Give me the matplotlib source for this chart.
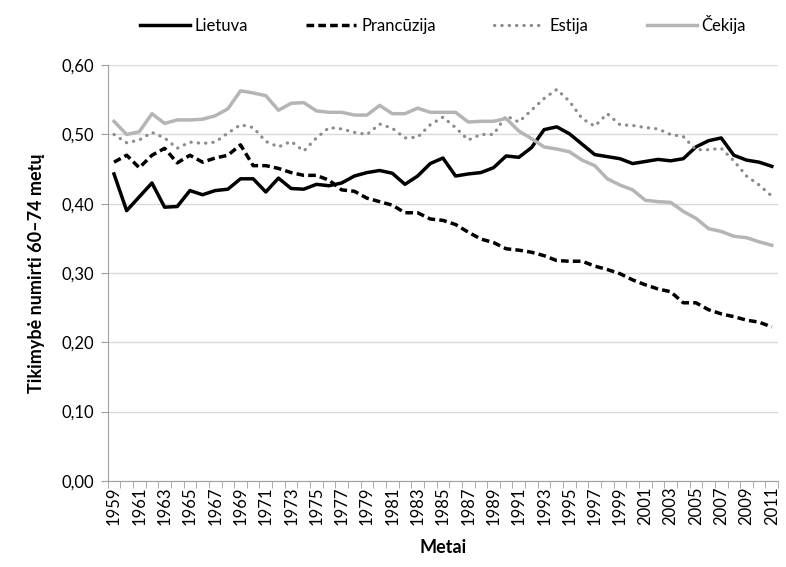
import matplotlib
matplotlib.use('Agg')
from matplotlib import pyplot as plt
import numpy as np

years = list(range(1959, 2012))

lietuva = [0.443, 0.390, 0.410, 0.430, 0.395, 0.396, 0.419, 0.413, 0.419, 0.421,
           0.436, 0.436, 0.417, 0.437, 0.422, 0.421, 0.428, 0.426, 0.430, 0.440,
           0.445, 0.448, 0.444, 0.428, 0.440, 0.458, 0.466, 0.440, 0.443, 0.445,
           0.452, 0.469, 0.467, 0.481, 0.507, 0.511, 0.501, 0.486, 0.471, 0.468,
           0.465, 0.458, 0.461, 0.464, 0.462, 0.465, 0.482, 0.491, 0.495, 0.470,
           0.463, 0.460, 0.454]

prancuzija = [0.460, 0.470, 0.452, 0.470, 0.480, 0.459, 0.470, 0.460, 0.466, 0.470,
              0.485, 0.455, 0.455, 0.451, 0.445, 0.441, 0.441, 0.434, 0.420, 0.418,
              0.408, 0.403, 0.398, 0.387, 0.387, 0.378, 0.376, 0.370, 0.359, 0.349,
              0.344, 0.335, 0.333, 0.330, 0.325, 0.318, 0.317, 0.317, 0.310, 0.305,
              0.299, 0.290, 0.283, 0.277, 0.273, 0.257, 0.257, 0.247, 0.241, 0.237,
              0.232, 0.229, 0.222]

estija = [0.500, 0.488, 0.492, 0.503, 0.495, 0.480, 0.489, 0.487, 0.489, 0.502,
          0.514, 0.510, 0.490, 0.482, 0.490, 0.476, 0.495, 0.510, 0.508, 0.503,
          0.500, 0.515, 0.509, 0.495, 0.496, 0.514, 0.525, 0.510, 0.492, 0.500,
          0.500, 0.527, 0.518, 0.535, 0.552, 0.565, 0.548, 0.523, 0.512, 0.530,
          0.514, 0.513, 0.510, 0.508, 0.500, 0.497, 0.478, 0.478, 0.480, 0.462,
          0.440, 0.427, 0.411]

cekija = [0.519, 0.500, 0.504, 0.530, 0.516, 0.521, 0.521, 0.522, 0.527, 0.537,
          0.563, 0.560, 0.556, 0.535, 0.545, 0.546, 0.534, 0.532, 0.532, 0.528,
          0.528, 0.542, 0.530, 0.530, 0.538, 0.532, 0.532, 0.532, 0.518, 0.519,
          0.519, 0.523, 0.505, 0.494, 0.482, 0.479, 0.475, 0.463, 0.455, 0.436,
          0.427, 0.420, 0.405, 0.403, 0.402, 0.389, 0.379, 0.364, 0.360, 0.353,
          0.351, 0.345, 0.340]

plt.rcParams['font.family'] = ['Lato', 'DejaVu Sans']

fig = plt.figure(figsize=(7.86, 5.67), dpi=100)
ax = fig.add_axes([0.137, 0.152, 0.853, 0.733])

x = np.arange(len(years))
ax.plot(x, lietuva, color='black', lw=2.5, label='Lietuva')
ax.plot(x, prancuzija, color='black', lw=2.5, ls=(0, (2.2, 1.2)), label='Prancūzija')
ax.plot(x, estija, color='#8c8c8c', lw=2.3, ls=(0, (0.1, 2.2)), dash_capstyle='round', label='Estija')
ax.plot(x, cekija, color='#b5b5b5', lw=2.5, label='Čekija')

ax.set_xlim(-0.5, len(years) - 0.5)
ax.set_ylim(0, 0.6)
ax.set_yticks(np.arange(0, 0.61, 0.1))
ax.set_yticklabels([f'{v:.2f}'.replace('.', ',') for v in np.arange(0, 0.61, 0.1)], fontsize=12)
ax.set_xticks(x[::2])
ax.set_xticklabels([str(y) for y in years[::2]], rotation=90, fontsize=12)
ax.set_xticks(np.arange(-0.5, len(years), 1), minor=True)
ax.tick_params(axis='x', which='major', length=0, pad=4)
ax.tick_params(axis='x', which='minor', length=5, color='#a0a0a0')
ax.tick_params(axis='y', length=5, color='#a0a0a0', pad=5)

ax.grid(axis='y', color='#d9d9d9', lw=1)
ax.set_axisbelow(True)
for s in ['top', 'right']:
    ax.spines[s].set_visible(False)
ax.spines['left'].set_color('#a0a0a0')
ax.spines['bottom'].set_color('#a0a0a0')

ax.set_xlabel('Metai', fontsize=13, fontweight='bold', labelpad=10)
ax.set_ylabel('Tikimybė numirti 60–74 metų', fontsize=13, fontweight='bold', labelpad=12)

ax.legend(loc='lower center', bbox_to_anchor=(0.5, 1.04), ncol=4, frameon=False,
          fontsize=12, handlelength=3, handletextpad=0.3, columnspacing=3.5)

fig.savefig('out.png', dpi=100)
